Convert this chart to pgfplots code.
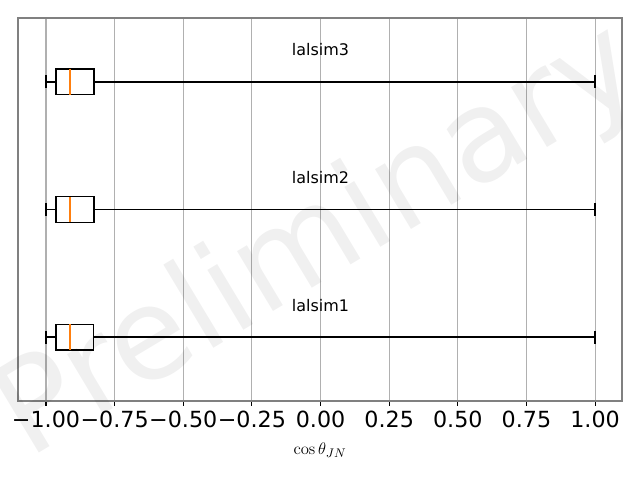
\documentclass[border=0pt]{standalone}
\usepackage{pgfplots}
\pgfplotsset{compat=1.18}
\usepgfplotslibrary{statistics}
\usepackage[no-math]{fontspec}
\setmainfont{DejaVu Sans}
\definecolor{mplorange}{HTML}{FF7F0E}
\definecolor{gridgray}{HTML}{B0B0B0}
\begin{document}
\begin{tikzpicture}
\useasboundingbox (0,0) rectangle (460.8pt,345.6pt);
\clip (0,0) rectangle (460.8pt,345.6pt);
\begin{axis}[
  at={(12.96pt,56.88pt)}, anchor=south west,
  scale only axis, width=434.88pt, height=275.76pt,
  xmin=-1.102, xmax=1.098, ymin=0.5, ymax=3.5,
  xtick={-1,-0.75,-0.5,-0.25,0,0.25,0.5,0.75,1},
  xticklabels={−1.00,−0.75,−0.50,−0.25,0.00,0.25,0.50,0.75,1.00},
  ytick=\empty,
  xmajorgrids, grid style={gridgray, line width=0.8pt},
  axis line style={gray, line width=0.8pt},
  tick style={black, line width=0.8pt},
  tick align=outside, major tick length=3.5pt,
  xtick pos=bottom,
  ticklabel style={font=\fontsize{16}{19}\selectfont},
  xlabel={$\cos\theta_{JN}$},
  xlabel style={font=\fontsize{13}{15}\selectfont, yshift=-4pt},
  boxplot/draw direction=x,
  boxplot/every median/.style={draw=mplorange, line width=1pt},
]
\addplot[black, line width=1pt, boxplot prepared={lower whisker=-1.0, lower quartile=-0.964, median=-0.912, upper quartile=-0.828, upper whisker=1.0, draw position=1, box extend=0.2, whisker extend=0.1}] coordinates {};
\addplot[black, line width=1pt, boxplot prepared={lower whisker=-1.0, lower quartile=-0.964, median=-0.912, upper quartile=-0.825, upper whisker=1.0, draw position=2, box extend=0.2, whisker extend=0.1}] coordinates {};
\addplot[black, line width=1pt, boxplot prepared={lower whisker=-1.0, lower quartile=-0.964, median=-0.912, upper quartile=-0.825, upper whisker=1.0, draw position=3, box extend=0.2, whisker extend=0.1}] coordinates {};
\node[font=\fontsize{11.5}{13}\selectfont] at (axis cs:0,1.25) {lalsim1};
\node[font=\fontsize{11.5}{13}\selectfont] at (axis cs:0,2.25) {lalsim2};
\node[font=\fontsize{11.5}{13}\selectfont] at (axis cs:0,3.25) {lalsim3};
\end{axis}
\node[rotate=31, text=black, text opacity=0.06, font=\fontsize{92}{100}\selectfont] at (230.4pt,170.6pt) {Preliminary};
\end{tikzpicture}
\end{document}
